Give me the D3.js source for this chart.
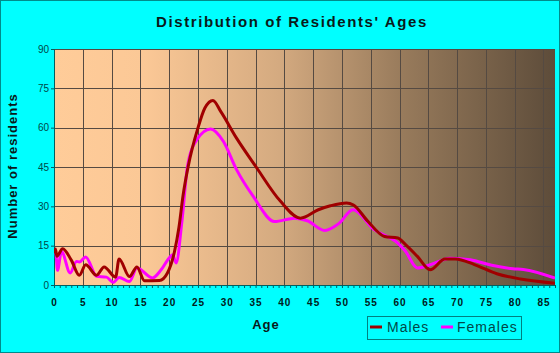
<!DOCTYPE html>
<html>
<head>
<meta charset="utf-8">
<title>Distribution of Residents' Ages</title>
<script src="https://d3js.org/d3.v7.min.js"></script>
<style>
  body { margin: 0; background: #00ffff; }
  svg { display: block; font-family: Arial, "Liberation Sans", sans-serif; }
</style>
</head>
<body>
<svg id="chart" width="560" height="353"></svg>
<script>
// values
var maleAges = [0, 0.25, 0.5, 1.5, 3, 4.4, 5.5, 7.4, 8.7, 10.7, 11.3, 13.1, 14.4, 15.7, 18.3, 19.7, 20.9, 21.7, 22.4, 23.3, 25, 26.2, 27.6, 29, 31.7, 35.1, 39.3, 42.8, 45.9, 48, 50.8, 52, 54.5, 57.4, 59.7, 61, 63.1, 65.3, 67.9, 69.7, 73, 76.9, 81, 87];
var males = [12, 13.7, 11, 13.8, 9.5, 3.7, 7.7, 3.7, 6.9, 3, 9.9, 3.2, 6.9, 1.6, 1.7, 4.6, 12.5, 22, 34, 45.2, 59.9, 67.5, 70.4, 66, 56, 45, 32, 25.5, 28.7, 30.2, 31.3, 30.5, 24.3, 18.5, 17.9, 15.5, 10.9, 5.8, 9.9, 9.9, 7.8, 4.3, 2.3, 0.7];

var femaleAges = [0, 0.3, 0.6, 1.3, 2.8, 3.9, 4.4, 5.5, 7.4, 9.1, 10.3, 11.3, 13.1, 14.4, 17.1, 18.6, 20, 20.6, 21.2, 22.2, 23.2, 24.8, 27.2, 29.4, 31.7, 34.6, 38.3, 41.8, 44, 47, 49.5, 51.9, 55.6, 59.7, 61, 63.1, 65.3, 68.8, 72.3, 76, 79.7, 81.5, 87];
var females = [12.2, 12.5, 5.6, 12.8, 4.6, 9, 8.8, 10.7, 3.3, 3.0, 1.0, 2.9, 1.3, 6.5, 2.7, 5.8, 10.3, 11.5, 8.4, 24, 45.5, 55.4, 59.5, 54.8, 44, 33.8, 24.2, 25.5, 24.5, 20.8, 23.5, 28.7, 21.1, 16, 13, 6.5, 7.7, 10.2, 9.6, 7.5, 6.2, 5.9, 2.6];

var yTicks = [0, 15, 30, 45, 60, 75, 90];
var xTicks = [0, 5, 10, 15, 20, 25, 30, 35, 40, 45, 50, 55, 60, 65, 70, 75, 80, 85];

var svg = d3.select("#chart");
var plot = { left: 54, right: 555, top: 49, bottom: 285 };

var x = d3.scaleLinear().domain([0, 87]).range([plot.left, plot.right]);
var y = d3.scaleLinear().domain([0, 90]).range([plot.bottom, plot.top]);

// outer frame
svg.append("rect")
    .attr("x", 0.5).attr("y", 0.5)
    .attr("width", 559).attr("height", 352)
    .attr("fill", "#00ffff")
    .attr("stroke", "#008b8b");

// plot background gradient
var grad = svg.append("defs").append("linearGradient")
    .attr("id", "bg").attr("x1", "0%").attr("x2", "100%").attr("y1", "0%").attr("y2", "0%");
grad.append("stop").attr("offset", "0%").attr("stop-color", "#ffcc99");
grad.append("stop").attr("offset", "18%").attr("stop-color", "#fbc896");
grad.append("stop").attr("offset", "45%").attr("stop-color", "#d4aa80");
grad.append("stop").attr("offset", "70%").attr("stop-color", "#977a5b");
grad.append("stop").attr("offset", "100%").attr("stop-color", "#5d4c3a");

svg.append("rect")
    .attr("x", plot.left).attr("y", plot.top)
    .attr("width", plot.right - plot.left).attr("height", plot.bottom - plot.top)
    .attr("fill", "url(#bg)");

// grid lines
svg.append("g").selectAll("line")
    .data(xTicks.filter(d => d > 0))
    .enter().append("line")
    .attr("x1", d => Math.round(x(d)) + 0.5).attr("x2", d => Math.round(x(d)) + 0.5)
    .attr("y1", plot.top).attr("y2", plot.bottom)
    .attr("stroke", "#554a42").attr("stroke-width", 1);

svg.append("g").selectAll("line")
    .data(yTicks.filter(d => d > 0))
    .enter().append("line")
    .attr("x1", plot.left).attr("x2", plot.right)
    .attr("y1", d => Math.round(y(d)) + 0.5).attr("y2", d => Math.round(y(d)) + 0.5)
    .attr("stroke", "#554a42").attr("stroke-width", 1);

// axes
var xAxis = d3.axisBottom(x)
    .tickValues(d3.range(0, 88, 1))
    .tickSize(3)
    .tickFormat(d => d % 5 === 0 ? d : "");
var gx = svg.append("g")
    .attr("transform", "translate(0," + plot.bottom + ")")
    .call(xAxis);
gx.select(".domain").attr("stroke", "#006060");
gx.selectAll(".tick line").attr("stroke", "#006060");
gx.selectAll("text")
    .attr("y", 14)
    .attr("fill", "#002020")
    .style("font-size", "10px")
    .style("font-weight", "bold")
    .style("letter-spacing", "1px");

var yAxis = d3.axisLeft(y).tickValues(yTicks).tickSize(3);
var gy = svg.append("g")
    .attr("transform", "translate(" + plot.left + ",0)")
    .call(yAxis);
gy.select(".domain").attr("stroke", "#006060");
gy.selectAll(".tick line").attr("stroke", "#006060");
gy.selectAll("text")
    .attr("x", -5)
    .attr("fill", "#004848")
    .style("font-size", "10px");

// series
var line = d3.line()
    .x(d => x(d[0]))
    .y(d => y(d[1]))
    .curve(d3.curveMonotoneX);

var clip = svg.append("clipPath").attr("id", "clip")
    .append("rect")
    .attr("x", plot.left).attr("y", plot.top - 5)
    .attr("width", plot.right - plot.left).attr("height", plot.bottom - plot.top + 8);

svg.append("path")
    .datum(d3.zip(femaleAges, females))
    .attr("d", line)
    .attr("clip-path", "url(#clip)")
    .attr("fill", "none")
    .attr("stroke", "#ff00ff")
    .attr("stroke-width", 3);

svg.append("path")
    .datum(d3.zip(maleAges, males))
    .attr("d", line)
    .attr("clip-path", "url(#clip)")
    .attr("fill", "none")
    .attr("stroke", "#a00000")
    .attr("stroke-width", 3);

// titles
svg.append("text")
    .attr("x", 292).attr("y", 27)
    .attr("text-anchor", "middle")
    .style("font-size", "15px")
    .style("font-weight", "bold")
    .style("letter-spacing", "1.6px")
    .attr("fill", "#0a1a1a")
    .text("Distribution of Residents' Ages");

svg.append("text")
    .attr("transform", "translate(17,166) rotate(-90)")
    .attr("text-anchor", "middle")
    .style("font-size", "13px")
    .style("font-weight", "bold")
    .style("letter-spacing", "1px")
    .attr("fill", "#0a1a1a")
    .text("Number of residents");

svg.append("text")
    .attr("x", 266).attr("y", 329)
    .attr("text-anchor", "middle")
    .style("font-size", "13px")
    .style("font-weight", "bold")
    .style("letter-spacing", "1px")
    .attr("fill", "#0a1a1a")
    .text("Age");

// legend
var legend = svg.append("g");
legend.append("rect")
    .attr("x", 367.5).attr("y", 316.5)
    .attr("width", 154).attr("height", 23)
    .attr("fill", "none")
    .attr("stroke", "#008080");

var items = [
  { name: "Males", color: "#a00000", lx: 370, tx: 387 },
  { name: "Females", color: "#ff00ff", lx: 441, tx: 457 }
];
items.forEach(function (it) {
  legend.append("line")
      .attr("x1", it.lx).attr("x2", it.lx + 12)
      .attr("y1", 327).attr("y2", 327)
      .attr("stroke", it.color).attr("stroke-width", 3);
  legend.append("text")
      .attr("x", it.tx).attr("y", 332)
      .style("font-size", "14px")
      .style("letter-spacing", "1px")
      .attr("fill", "#004848")
      .text(it.name);
});
</script>
</body>
</html>
